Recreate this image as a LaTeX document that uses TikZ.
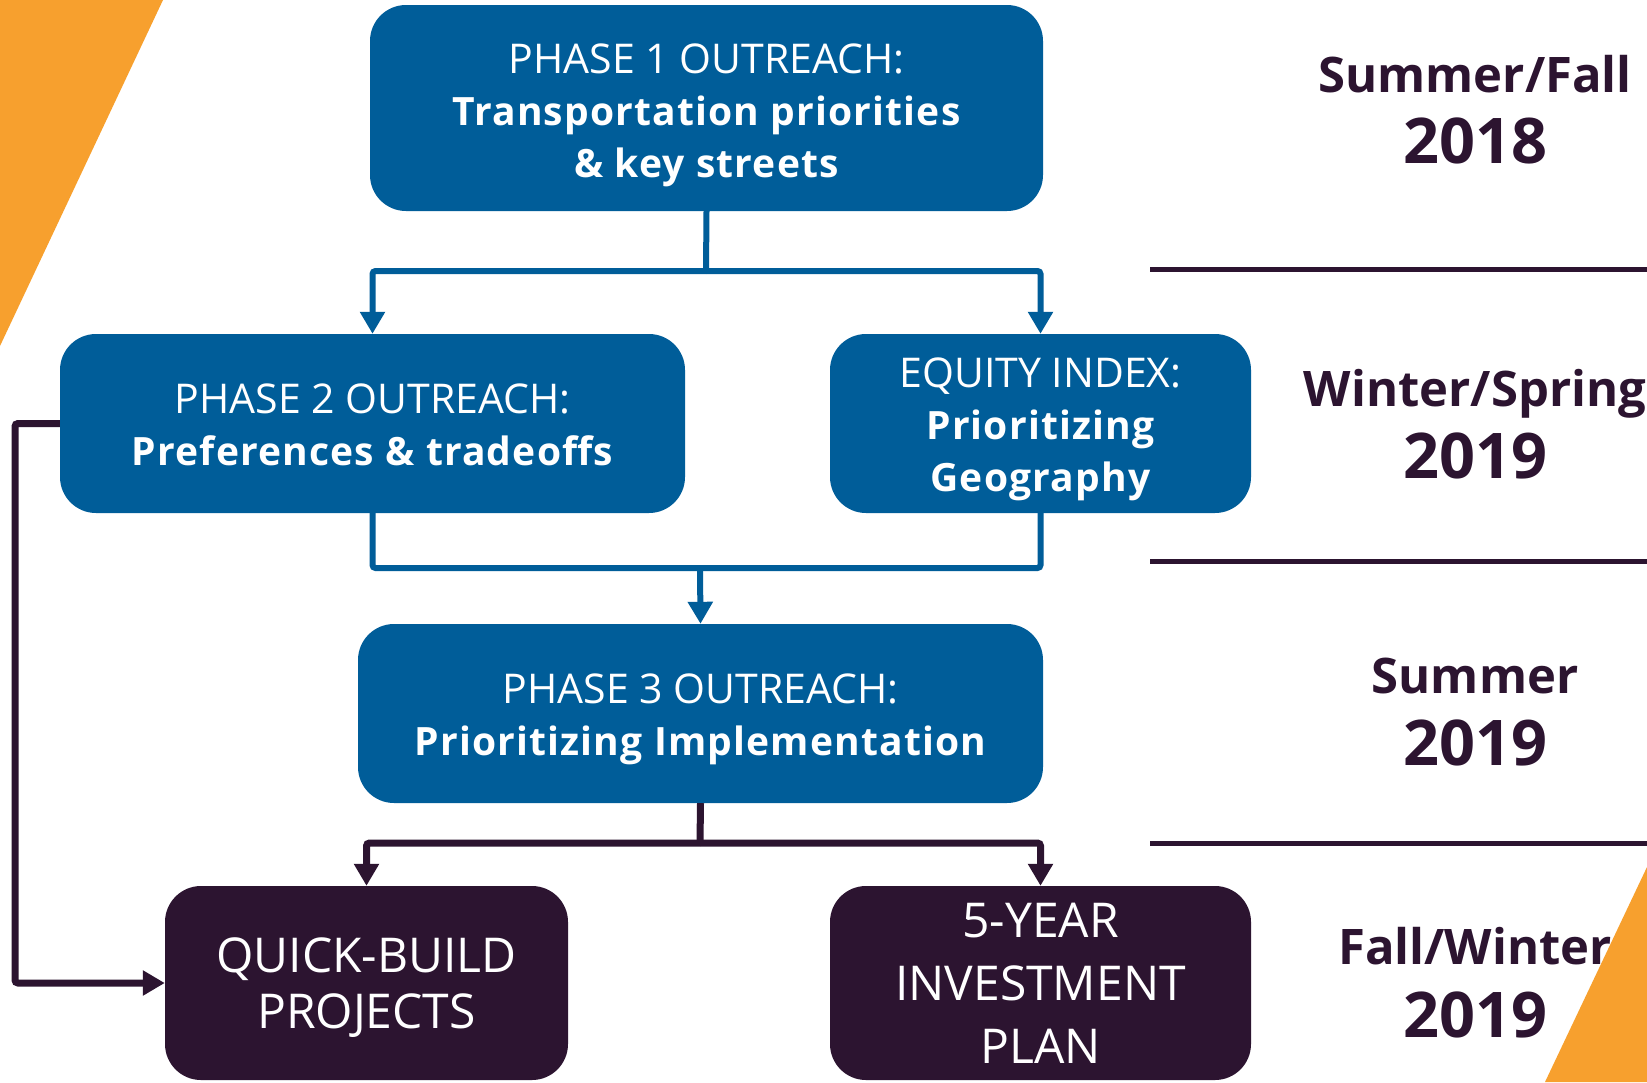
\documentclass[tikz,border=0pt]{standalone}
\usepackage{fontspec}
\setmainfont{Open Sans}
\usetikzlibrary{arrows.meta}
\definecolor{pblue}{HTML}{005D99}
\definecolor{pdark}{HTML}{2C1430}
\definecolor{porange}{HTML}{F7A02E}
\newcommand\bsp[1]{{\bfseries\fontsize{39}{52}\selectfont\addfontfeature{LetterSpace=3}#1}}
\begin{document}
\begin{tikzpicture}[x=1pt,y=-1pt,
 box/.style={rectangle, rounded corners=36pt, inner sep=0pt},
 bluebox/.style={box, fill=pblue},
 darkbox/.style={box, fill=pdark},
 btext/.style={text=white, align=center, inner sep=0pt, font=\fontsize{41}{52}\selectfont},
 dtext/.style={text=white, align=center, inner sep=0pt, font=\fontsize{48}{63}\selectfont},
 bconn/.style={draw=pblue, line width=6pt, rounded corners=3pt},
 dconn/.style={draw=pdark, line width=7pt, rounded corners=3pt},
 tip/.style={-{Triangle[width=24pt,length=22pt]}},
 period/.style={text=pdark, font=\bfseries\fontsize{49}{58}\selectfont, anchor=base},
 year/.style={text=pdark, font=\bfseries\fontsize{63}{70}\selectfont, anchor=base},
 sep/.style={draw=pdark, line width=5pt}
]
\useasboundingbox (0,0) rectangle (1647,1082);
\fill[white] (0,0) rectangle (1647,1082);
% orange corners
\fill[porange] (0,0) -- (163,0) -- (0,346) -- cycle;
\fill[porange] (1647,867) -- (1647,1082) -- (1545,1082) -- cycle;

% boxes
\node[bluebox, minimum width=673pt, minimum height=206pt] (b1) at (706.5,108) {};
\node[bluebox, minimum width=625pt, minimum height=179pt] (b2) at (372.5,423.5) {};
\node[bluebox, minimum width=421pt, minimum height=179pt] (b3) at (1040.5,423.5) {};
\node[bluebox, minimum width=685pt, minimum height=179pt] (b4) at (700.5,713.5) {};
\node[darkbox, minimum width=403pt, minimum height=194pt] (b5) at (366.5,983) {};
\node[darkbox, minimum width=421pt, minimum height=194pt] (b6) at (1040.5,983) {};

% box texts
\node[btext] (t1) at ([yshift=-7pt]b1.center)
  {PHASE 1 OUTREACH:\\\bsp{Transportation priorities}\\\bsp{\& key streets}};
\node[btext] (t2) at ([yshift=-1pt]b2.center)
  {PHASE 2 OUTREACH:\\\bsp{Preferences \& tradeoffs}};
\node[btext] (t3) at ([yshift=-6pt]b3.center)
  {EQUITY INDEX:\\\bsp{Prioritizing}\\\bsp{Geography}};
\node[btext] (t4) at ([yshift=-6pt]b4.center)
  {PHASE 3 OUTREACH:\\\bsp{Prioritizing Implementation}};
\node[dtext, font=\fontsize{48}{56}\selectfont] (t5) at ([yshift=-5pt]b5.center)
  {QUICK-BUILD\\PROJECTS};
\node[dtext] (t6) at ([yshift=0pt]b6.center)
  {5-YEAR\\INVESTMENT\\PLAN};

% connectors
\coordinate (j1) at (706,271);
\coordinate (j2) at (700,568);
\coordinate (j3) at (700,843);
\coordinate (fb) at (15,423.5);
\draw[bconn] (b1.south) -- (j1);
\draw[bconn, tip] (j1) -| (b2.north);
\draw[bconn, tip] (j1) -| (b3.north);
\draw[bconn] (b2.south) |- (j2) -| (b3.south);
\draw[bconn, tip] (j2) -- (b4.north);
\draw[dconn] (b4.south) -- (j3);
\draw[dconn, tip] (j3) -| (b5.north);
\draw[dconn, tip] (j3) -| (b6.north);
\draw[dconn, tip] (b2.west) -- (fb) |- (b5.west);

% timeline
\coordinate (s1a) at (1150,269); \coordinate (s1b) at (1647,269);
\coordinate (s2a) at (1150,561); \coordinate (s2b) at (1647,561);
\coordinate (s3a) at (1150,843); \coordinate (s3b) at (1647,843);
\draw[sep] (s1a) -- (s1b);
\draw[sep] (s2a) -- (s2b);
\draw[sep] (s3a) -- (s3b);

\node[period] (p1) at (1475,92) {Summer/Fall};
\node[year] (y1) at (1475,163) {2018};
\node[period] (p2) at (1475,406) {Winter/Spring};
\node[year] (y2) at (1475,478) {2019};
\node[period] (p3) at (1475,693) {Summer};
\node[year] (y3) at (1475,765) {2019};
\node[period] (p4) at (1475,964) {Fall/Winter};
\node[year] (y4) at (1475,1037) {2019};
\end{tikzpicture}
\end{document}
